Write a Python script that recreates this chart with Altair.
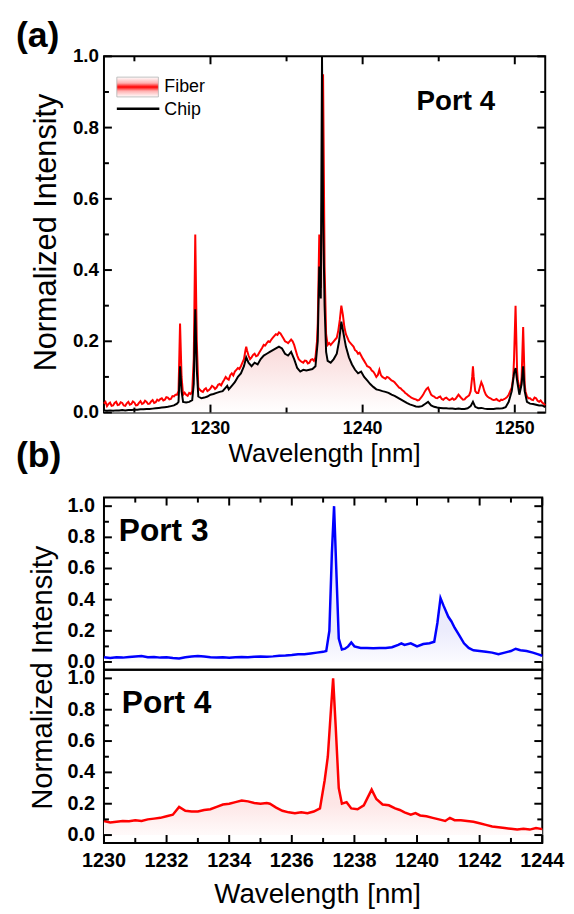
import altair as alt
import pandas as pd

FONT = "Liberation Sans"

# ---------------- (a) Port 4 : fiber (red) ----------------
FIBER_WL = [1223.0, 1223.1, 1223.2, 1223.3, 1223.4, 1223.5, 1223.6, 1223.7, 1223.8, 1223.9,
            1224.0, 1224.1, 1224.2, 1224.3, 1224.4, 1224.5, 1224.6, 1224.7, 1224.8, 1224.9,
            1225.0, 1225.1, 1225.2, 1225.3, 1225.4, 1225.5, 1225.6, 1225.7, 1225.8, 1225.9,
            1226.0, 1226.1, 1226.2, 1226.3, 1226.4, 1226.5, 1226.6, 1226.7, 1226.8, 1226.9,
            1227.0, 1227.1, 1227.2, 1227.3, 1227.4, 1227.5, 1227.6, 1227.7, 1227.8, 1227.9,
            1228.0, 1228.1, 1228.2, 1228.3, 1228.4, 1228.5, 1228.6, 1228.7, 1228.8, 1228.9,
            1229.0, 1229.1, 1229.2, 1229.3, 1229.4, 1229.5, 1229.6, 1229.7, 1229.8, 1229.9,
            1230.0, 1230.1, 1230.2, 1230.3, 1230.4, 1230.5, 1230.6, 1230.7, 1230.8, 1230.9,
            1231.0, 1231.1, 1231.2, 1231.3, 1231.4, 1231.5, 1231.6, 1231.7, 1231.8, 1231.9,
            1232.0, 1232.1, 1232.2, 1232.3, 1232.35, 1232.4, 1232.5, 1232.6, 1232.7, 1232.8, 1232.9,
            1233.0, 1233.1, 1233.2, 1233.3, 1233.4, 1233.5, 1233.6, 1233.7, 1233.8, 1233.9,
            1234.0, 1234.1, 1234.2, 1234.3, 1234.4, 1234.5, 1234.6, 1234.7, 1234.8, 1234.9,
            1235.0, 1235.1, 1235.2, 1235.3, 1235.4, 1235.5, 1235.6, 1235.7, 1235.8, 1235.9,
            1236.0, 1236.1, 1236.2, 1236.3, 1236.4, 1236.5, 1236.6, 1236.7, 1236.8, 1236.9,
            1237.0, 1237.05, 1237.15, 1237.25, 1237.33, 1237.4, 1237.5, 1237.6, 1237.7, 1237.8, 1237.9,
            1238.0, 1238.1, 1238.2, 1238.3, 1238.4, 1238.5, 1238.6, 1238.7, 1238.8, 1238.9,
            1239.0, 1239.1, 1239.2, 1239.3, 1239.4, 1239.5, 1239.6, 1239.7, 1239.8, 1239.9,
            1240.0, 1240.1, 1240.2, 1240.3, 1240.4, 1240.5, 1240.6, 1240.7, 1240.8, 1240.9,
            1241.0, 1241.1, 1241.2, 1241.3, 1241.4, 1241.5, 1241.6, 1241.7, 1241.8, 1241.9,
            1242.0, 1242.1, 1242.2, 1242.3, 1242.4, 1242.5, 1242.6, 1242.7, 1242.8, 1242.9,
            1243.0, 1243.1, 1243.2, 1243.3, 1243.4, 1243.5, 1243.6, 1243.7, 1243.8, 1243.9,
            1244.0, 1244.1, 1244.2, 1244.3, 1244.4, 1244.5, 1244.6, 1244.7, 1244.8, 1244.9,
            1245.0, 1245.1, 1245.2, 1245.3, 1245.4, 1245.5, 1245.6, 1245.7, 1245.8, 1245.9,
            1246.0, 1246.1, 1246.2, 1246.3, 1246.4, 1246.5, 1246.6, 1246.7, 1246.8, 1246.9,
            1247.0, 1247.1, 1247.2, 1247.25, 1247.3, 1247.4, 1247.5, 1247.6, 1247.7, 1247.8, 1247.9,
            1248.0, 1248.1, 1248.2, 1248.3, 1248.4, 1248.5, 1248.6, 1248.7, 1248.8, 1248.9,
            1249.0, 1249.1, 1249.2, 1249.3, 1249.4, 1249.5, 1249.6, 1249.7, 1249.8, 1249.9, 1249.95,
            1250.05, 1250.15, 1250.2, 1250.3, 1250.4, 1250.45, 1250.55, 1250.65, 1250.7, 1250.8, 1250.9,
            1251.0, 1251.1, 1251.2, 1251.3, 1251.4, 1251.5, 1251.6, 1251.7, 1251.8, 1251.9, 1252.0]
FIBER_VAL = [0.025, 0.030, 0.018, 0.024, 0.028, 0.019, 0.020, 0.027, 0.030, 0.021,
             0.022, 0.029, 0.027, 0.020, 0.019, 0.026, 0.030, 0.022, 0.024, 0.031,
             0.028, 0.020, 0.021, 0.027, 0.032, 0.024, 0.026, 0.033, 0.030, 0.024,
             0.025, 0.031, 0.035, 0.027, 0.029, 0.036, 0.033, 0.038, 0.040, 0.034,
             0.036, 0.043, 0.042, 0.037, 0.038, 0.046, 0.045, 0.050, 0.050, 0.060,
             0.250, 0.100, 0.050, 0.056, 0.050, 0.047, 0.055, 0.052, 0.060, 0.150,
             0.500, 0.200, 0.070, 0.064, 0.060, 0.058, 0.065, 0.068, 0.060, 0.063,
             0.068, 0.075, 0.072, 0.066, 0.070, 0.078, 0.080, 0.076, 0.085, 0.092,
             0.100, 0.095, 0.092, 0.105, 0.110, 0.104, 0.115, 0.120, 0.125, 0.122,
             0.130, 0.140, 0.150, 0.175, 0.185, 0.175, 0.160, 0.150, 0.155, 0.162, 0.165,
             0.158, 0.160, 0.168, 0.175, 0.182, 0.190, 0.188, 0.195, 0.200, 0.198,
             0.205, 0.210, 0.215, 0.220, 0.218, 0.225, 0.222, 0.215, 0.208, 0.200,
             0.198, 0.195, 0.200, 0.205, 0.200, 0.190, 0.175, 0.160, 0.150, 0.145,
             0.142, 0.140, 0.146, 0.145, 0.138, 0.140, 0.148, 0.150, 0.145, 0.155,
             0.200, 0.250, 0.500, 0.350, 0.600, 0.950, 0.410, 0.220, 0.190, 0.195, 0.190,
             0.195, 0.200, 0.205, 0.210, 0.230, 0.260, 0.300, 0.275, 0.240, 0.220,
             0.210, 0.200, 0.195, 0.190, 0.185, 0.175, 0.172, 0.165, 0.168, 0.160,
             0.152, 0.145, 0.138, 0.130, 0.128, 0.125, 0.118, 0.115, 0.108, 0.100,
             0.105, 0.120, 0.105, 0.100, 0.097, 0.095, 0.100, 0.098, 0.094, 0.090,
             0.088, 0.085, 0.080, 0.075, 0.070, 0.068, 0.063, 0.060, 0.055, 0.052,
             0.048, 0.045, 0.042, 0.040, 0.038, 0.037, 0.034, 0.035, 0.040, 0.045,
             0.052, 0.060, 0.066, 0.070, 0.060, 0.050, 0.047, 0.045, 0.041, 0.040,
             0.043, 0.045, 0.038, 0.036, 0.040, 0.042, 0.038, 0.035, 0.037, 0.040,
             0.036, 0.038, 0.044, 0.050, 0.045, 0.040, 0.036, 0.037, 0.042, 0.045,
             0.048, 0.060, 0.100, 0.130, 0.100, 0.060, 0.055, 0.055, 0.070, 0.085, 0.075,
             0.060, 0.050, 0.045, 0.042, 0.040, 0.037, 0.035, 0.036, 0.038, 0.034,
             0.032, 0.036, 0.035, 0.038, 0.040, 0.044, 0.050, 0.060, 0.070, 0.100, 0.150,
             0.300, 0.120, 0.090, 0.070, 0.075, 0.100, 0.240, 0.080, 0.060, 0.045, 0.040,
             0.040, 0.036, 0.035, 0.042, 0.040, 0.033, 0.030, 0.034, 0.028, 0.025, 0.020]

# ---------------- (a) Port 4 : chip (black) ----------------
CHIP_WL = [1223.0, 1223.2, 1223.4, 1223.6, 1223.8, 1224.0, 1224.2, 1224.4, 1224.6, 1224.8,
           1225.0, 1225.2, 1225.4, 1225.6, 1225.8, 1226.0, 1226.2, 1226.4, 1226.6, 1226.8,
           1227.0, 1227.2, 1227.4, 1227.6, 1227.8, 1227.9, 1228.0, 1228.1, 1228.2, 1228.4,
           1228.6, 1228.8, 1228.9, 1229.0, 1229.1, 1229.2, 1229.4, 1229.6, 1229.8, 1230.0,
           1230.2, 1230.4, 1230.6, 1230.8, 1231.0, 1231.1, 1231.2, 1231.4, 1231.6, 1231.8,
           1232.0, 1232.2, 1232.35, 1232.5, 1232.7, 1232.9, 1233.1, 1233.3, 1233.5, 1233.7,
           1233.9, 1234.1, 1234.3, 1234.5, 1234.7, 1234.9, 1235.1, 1235.3, 1235.5, 1235.7,
           1235.9, 1236.1, 1236.3, 1236.5, 1236.7, 1236.9, 1237.05, 1237.15, 1237.25, 1237.33,
           1237.4, 1237.5, 1237.6, 1237.7, 1237.9, 1238.1, 1238.3, 1238.45, 1238.6, 1238.75,
           1238.9, 1239.1, 1239.3, 1239.5, 1239.7, 1239.9, 1240.1, 1240.3, 1240.5, 1240.7,
           1240.9, 1241.1, 1241.3, 1241.5, 1241.7, 1241.9, 1242.1, 1242.3, 1242.5, 1242.7,
           1242.9, 1243.1, 1243.3, 1243.5, 1243.7, 1243.9, 1244.1, 1244.3, 1244.5, 1244.7,
           1244.9, 1245.1, 1245.3, 1245.5, 1245.7, 1245.9, 1246.1, 1246.3, 1246.5, 1246.7,
           1246.9, 1247.1, 1247.25, 1247.4, 1247.6, 1247.8, 1248.0, 1248.2, 1248.4, 1248.6,
           1248.8, 1249.0, 1249.2, 1249.4, 1249.6, 1249.8, 1249.95, 1250.05, 1250.15, 1250.3,
           1250.45, 1250.55, 1250.65, 1250.8, 1251.0, 1251.2, 1251.4, 1251.6, 1251.8, 1252.0]
CHIP_VAL = [0.006, 0.005, 0.006, 0.005, 0.006, 0.006, 0.007, 0.006, 0.007, 0.007,
            0.008, 0.008, 0.009, 0.009, 0.010, 0.010, 0.011, 0.012, 0.013, 0.014,
            0.015, 0.016, 0.018, 0.020, 0.025, 0.030, 0.130, 0.060, 0.030, 0.028,
            0.030, 0.035, 0.080, 0.290, 0.120, 0.045, 0.040, 0.042, 0.045, 0.050,
            0.052, 0.055, 0.058, 0.060, 0.070, 0.075, 0.065, 0.075, 0.085, 0.100,
            0.110, 0.130, 0.155, 0.140, 0.130, 0.140, 0.135, 0.150, 0.160, 0.165,
            0.170, 0.175, 0.180, 0.185, 0.180, 0.165, 0.160, 0.170, 0.150, 0.125,
            0.115, 0.120, 0.118, 0.120, 0.122, 0.130, 0.200, 0.410, 0.320, 1.000,
            0.550, 0.300, 0.170, 0.145, 0.140, 0.150, 0.165, 0.200, 0.255, 0.220,
            0.185, 0.155, 0.135, 0.120, 0.110, 0.115, 0.100, 0.090, 0.080, 0.072,
            0.065, 0.063, 0.060, 0.058, 0.055, 0.050, 0.047, 0.042, 0.037, 0.032,
            0.027, 0.023, 0.020, 0.017, 0.016, 0.018, 0.024, 0.030, 0.020, 0.016,
            0.014, 0.013, 0.012, 0.012, 0.011, 0.011, 0.010, 0.011, 0.010, 0.010,
            0.012, 0.018, 0.030, 0.016, 0.012, 0.013, 0.011, 0.010, 0.010, 0.010,
            0.011, 0.011, 0.012, 0.015, 0.030, 0.060, 0.110, 0.125, 0.090, 0.050,
            0.080, 0.130, 0.060, 0.030, 0.025, 0.024, 0.022, 0.020, 0.020, 0.015]

# ---------------- (b) Port 3 / Port 4 ----------------
P3_WL = [1230.0, 1230.2, 1230.4, 1230.6, 1230.8, 1231.0, 1231.2, 1231.4, 1231.6, 1231.8,
         1232.0, 1232.2, 1232.4, 1232.6, 1232.8, 1233.0, 1233.2, 1233.4, 1233.6, 1233.8,
         1234.0, 1234.2, 1234.4, 1234.6, 1234.8, 1235.0, 1235.2, 1235.4, 1235.6, 1235.8,
         1236.0, 1236.2, 1236.4, 1236.6, 1236.8, 1237.0, 1237.1, 1237.2, 1237.28, 1237.35,
         1237.42, 1237.5, 1237.6, 1237.7, 1237.8, 1237.9, 1238.0, 1238.2, 1238.4, 1238.6,
         1238.8, 1239.0, 1239.2, 1239.4, 1239.5, 1239.6, 1239.8, 1240.0, 1240.2, 1240.4,
         1240.55, 1240.65, 1240.75, 1240.85, 1241.0, 1241.1, 1241.2, 1241.35, 1241.5, 1241.65,
         1241.8, 1242.0, 1242.2, 1242.4, 1242.6, 1242.8, 1243.0, 1243.15, 1243.3, 1243.5,
         1243.7, 1243.85, 1244.0]
P3_VAL = [0.030, 0.025, 0.030, 0.028, 0.032, 0.035, 0.038, 0.030, 0.032, 0.028,
          0.030, 0.025, 0.022, 0.030, 0.035, 0.038, 0.035, 0.030, 0.028, 0.030,
          0.027, 0.030, 0.032, 0.030, 0.033, 0.035, 0.033, 0.036, 0.040, 0.042,
          0.045, 0.050, 0.050, 0.055, 0.060, 0.065, 0.070, 0.200, 0.700, 1.000,
          0.600, 0.150, 0.080, 0.085, 0.100, 0.125, 0.100, 0.090, 0.090, 0.088,
          0.090, 0.090, 0.095, 0.110, 0.120, 0.110, 0.120, 0.100, 0.115, 0.120,
          0.130, 0.250, 0.410, 0.360, 0.290, 0.260, 0.220, 0.170, 0.120, 0.090,
          0.075, 0.070, 0.065, 0.060, 0.050, 0.060, 0.070, 0.085, 0.075, 0.070,
          0.060, 0.050, 0.040]
P4_WL = [1230.0, 1230.2, 1230.4, 1230.6, 1230.8, 1231.0, 1231.2, 1231.4, 1231.6, 1231.8,
         1232.0, 1232.2, 1232.4, 1232.6, 1232.8, 1233.0, 1233.2, 1233.4, 1233.6, 1233.8,
         1234.0, 1234.2, 1234.4, 1234.6, 1234.8, 1235.0, 1235.2, 1235.3, 1235.5, 1235.7,
         1235.9, 1236.1, 1236.3, 1236.5, 1236.7, 1236.9, 1237.05, 1237.15, 1237.25, 1237.32,
         1237.4, 1237.5, 1237.6, 1237.75, 1237.9, 1238.1, 1238.3, 1238.45, 1238.55, 1238.7,
         1238.9, 1239.1, 1239.3, 1239.45, 1239.6, 1239.8, 1239.95, 1240.1, 1240.3, 1240.5,
         1240.7, 1240.9, 1241.05, 1241.2, 1241.4, 1241.6, 1241.8, 1242.0, 1242.2, 1242.4,
         1242.6, 1242.8, 1243.0, 1243.2, 1243.4, 1243.6, 1243.8, 1244.0]
P4_VAL = [0.090, 0.080, 0.085, 0.090, 0.088, 0.095, 0.090, 0.100, 0.105, 0.110,
          0.120, 0.130, 0.180, 0.155, 0.150, 0.150, 0.160, 0.165, 0.180, 0.195,
          0.200, 0.210, 0.220, 0.215, 0.205, 0.200, 0.205, 0.200, 0.175, 0.155,
          0.145, 0.140, 0.145, 0.140, 0.150, 0.170, 0.350, 0.500, 0.800, 1.000,
          0.700, 0.300, 0.200, 0.210, 0.170, 0.165, 0.190, 0.250, 0.290, 0.230,
          0.195, 0.190, 0.170, 0.160, 0.145, 0.130, 0.140, 0.125, 0.120, 0.110,
          0.100, 0.090, 0.110, 0.095, 0.095, 0.090, 0.085, 0.075, 0.065, 0.055,
          0.050, 0.045, 0.040, 0.035, 0.040, 0.035, 0.045, 0.038]

TOP_X_MAJOR = [1230, 1240, 1250]
TOP_X_LABELS = ["1230", "1240", "1250"]
TOP_X_MINOR = [1225, 1235, 1245]
Y_MAJOR = [0.0, 0.2, 0.4, 0.6, 0.8, 1.0]
Y_LABELS = ["0.0", "0.2", "0.4", "0.6", "0.8", "1.0"]
Y_MINOR = [0.1, 0.3, 0.5, 0.7, 0.9]
B_X_MAJOR = [1230, 1232, 1234, 1236, 1238, 1240, 1242, 1244]
B_X_LABELS = ["1230", "1232", "1234", "1236", "1238", "1240", "1242", "1244"]
B_X_MINOR = [1231, 1233, 1235, 1237, 1239, 1241, 1243]

W1, H1 = 446, 360
W2, H2A, H2B = 443, 174, 175
MAJ, MIN = 8, 5


def grad(stops):
    return alt.Gradient(gradient="linear", x1=1, x2=1, y1=0, y2=1,
                        stops=[alt.GradientStop(color=c, offset=o) for o, c in stops])


def ticks(xvals, yvals, xs, ys, w, h, top=True, bottom=True):
    layers = []
    for vals, ln in ((xvals[0], MAJ), (xvals[1], MIN)):
        d = pd.DataFrame({"v": vals})
        if top:
            layers.append(alt.Chart(d).mark_rule(color="black", strokeWidth=2).encode(
                x=alt.X("v:Q", scale=xs, axis=None), y=alt.value(0), y2=alt.value(ln)))
        if bottom:
            layers.append(alt.Chart(d).mark_rule(color="black", strokeWidth=2).encode(
                x=alt.X("v:Q", scale=xs, axis=None), y=alt.value(h), y2=alt.value(h - ln)))
    for vals, ln in ((yvals[0], MAJ), (yvals[1], MIN)):
        d = pd.DataFrame({"v": vals})
        layers.append(alt.Chart(d).mark_rule(color="black", strokeWidth=2).encode(
            y=alt.Y("v:Q", scale=ys, axis=None), x=alt.value(0), x2=alt.value(ln)))
        layers.append(alt.Chart(d).mark_rule(color="black", strokeWidth=2).encode(
            y=alt.Y("v:Q", scale=ys, axis=None), x=alt.value(w), x2=alt.value(w - ln)))
    return layers


def xlabels(vals, labels, xs, y, size):
    return alt.Chart(pd.DataFrame({"v": vals, "t": labels})).mark_text(
        font=FONT, fontSize=size, fontWeight="bold", align="center", baseline="middle",
        color="black").encode(x=alt.X("v:Q", scale=xs, axis=None), y=alt.value(y), text="t:N")


def ylabels(vals, labels, ys, x, size):
    return alt.Chart(pd.DataFrame({"v": vals, "t": labels})).mark_text(
        font=FONT, fontSize=size, fontWeight="bold", align="right", baseline="middle",
        color="black").encode(y=alt.Y("v:Q", scale=ys, axis=None), x=alt.value(x), text="t:N")


def text(t, x, y, size, bold=False, angle=0, align="left", baseline="middle", opacity=1):
    kw = dict(text=t, font=FONT, fontSize=size, fontWeight="bold" if bold else "normal",
              align=align, baseline=baseline, color="black", opacity=opacity)
    if angle:
        kw["angle"] = angle
    return alt.Chart(pd.DataFrame({"a": [0]})).mark_text(**kw).encode(
        x=alt.value(x), y=alt.value(y))


# ---- top panel ----
df_fiber = pd.DataFrame({"wl": FIBER_WL, "v": FIBER_VAL})
df_chip = pd.DataFrame({"wl": CHIP_WL, "v": CHIP_VAL})
xs1 = alt.Scale(domain=[1223, 1252], nice=False, zero=False)
ys1 = alt.Scale(domain=[0, 1], nice=False)

top_area = alt.Chart(df_chip).mark_area(
    color=grad([(0, "#f4c2c2"), (0.78, "#f8d2d2"), (1, "#ffffff")])).encode(
    x=alt.X("wl:Q", scale=xs1, axis=None),
    y=alt.Y("v:Q", scale=ys1, axis=None))
top_fiber = alt.Chart(df_fiber).mark_line(color="#ff0000", strokeWidth=2).encode(
    x=alt.X("wl:Q", scale=xs1, axis=None), y=alt.Y("v:Q", scale=ys1, axis=None))
top_chip = alt.Chart(df_chip).mark_line(color="#000000", strokeWidth=2).encode(
    x=alt.X("wl:Q", scale=xs1, axis=None), y=alt.Y("v:Q", scale=ys1, axis=None))

legend_sw = alt.Chart(pd.DataFrame({"a": [0]})).mark_rect(
    fill=grad([(0, "#ffffff"), (0.3, "#ffb0b0"), (0.5, "#ff0000"), (0.7, "#ffb0b0"), (1, "#ffffff")]),
    stroke="#b0b0b0", strokeWidth=0.8).encode(
    x=alt.value(13), x2=alt.value(55), y=alt.value(21), y2=alt.value(41))
legend_ln = alt.Chart(pd.DataFrame({"a": [0]})).mark_rule(color="black", strokeWidth=2.5).encode(
    x=alt.value(13), x2=alt.value(56), y=alt.value(53))

top = alt.layer(
    top_area, top_fiber, top_chip,
    *ticks((TOP_X_MAJOR, TOP_X_MINOR), (Y_MAJOR, Y_MINOR), xs1, ys1, W1, H1),
    xlabels(TOP_X_MAJOR, TOP_X_LABELS, xs1, H1 + 17, 18),
    ylabels(Y_MAJOR, Y_LABELS, ys1, -5, 19),
    legend_sw, legend_ln,
    text("Fiber", 61, 31, 18), text("Chip", 61, 54, 18),
    text("Port 4", 316, 54, 28, bold=True, baseline="alphabetic"),
    text("(a)", -89, -20, 36, bold=True),
    text("(b)", -89, 404, 36, bold=True),
    text("Normalized Intensity", -57, 178, 31, angle=270, align="center"),
    text("Wavelength [nm]", 223, 402, 26, align="center"),
).properties(width=W1, height=H1)

# ---- bottom panels ----
xs2 = alt.Scale(domain=[1230, 1244], nice=False, zero=False)
ys2 = alt.Scale(domain=[-0.05, 1.055], nice=False)
df3 = pd.DataFrame({"wl": P3_WL, "v": P3_VAL})
df4 = pd.DataFrame({"wl": P4_WL, "v": P4_VAL})

b1 = alt.layer(
    alt.Chart(df3).mark_area(color=grad([(0, "#e4e4fb"), (0.8, "#ececfc"), (1, "#fbfbff")])).encode(
        x=alt.X("wl:Q", scale=xs2, axis=None),
        y=alt.Y("v:Q", scale=ys2, axis=None)),
    alt.Chart(df3).mark_line(color="#0000ff", strokeWidth=2.5).encode(
        x=alt.X("wl:Q", scale=xs2, axis=None), y=alt.Y("v:Q", scale=ys2, axis=None)),
    *ticks((B_X_MAJOR, B_X_MINOR), (Y_MAJOR, Y_MINOR), xs2, ys2, W2, H2A, top=True, bottom=False),
    ylabels(Y_MAJOR, Y_LABELS, ys2, -9, 20),
    text("Port 3", 15, 44, 32, bold=True, baseline="alphabetic"),
    text("(b)", -89, 80, 36, bold=True, opacity=0),
).properties(width=W2, height=H2A)

b2 = alt.layer(
    alt.Chart(df4).mark_area(color=grad([(0, "#fbdcdc"), (0.8, "#fde6e6"), (1, "#fffafa")])).encode(
        x=alt.X("wl:Q", scale=xs2, axis=None),
        y=alt.Y("v:Q", scale=ys2, axis=None)),
    alt.Chart(df4).mark_line(color="#ff0000", strokeWidth=2.5).encode(
        x=alt.X("wl:Q", scale=xs2, axis=None), y=alt.Y("v:Q", scale=ys2, axis=None)),
    *ticks((B_X_MAJOR, B_X_MINOR), (Y_MAJOR, Y_MINOR), xs2, ys2, W2, H2B, top=False, bottom=True),
    xlabels(B_X_MAJOR, B_X_LABELS, xs2, H2B + 18, 20),
    ylabels(Y_MAJOR, Y_LABELS, ys2, -9, 20),
    text("Port 4", 18, 44, 32, bold=True, baseline="alphabetic"),
    text("Normalized Intensity", -62, 8, 29.5, angle=270, align="center"),
    text("Wavelength [nm]", 216, H2B + 53, 28, align="center"),
).properties(width=W2, height=H2B)

bottom = alt.vconcat(b1, b2, spacing=0, bounds="flush")

chart = alt.vconcat(top, bottom, spacing=20).properties(
    padding={"left": 7, "top": 5, "right": 0, "bottom": 0}
).configure_view(stroke="black", strokeWidth=2)

chart.save("out.html", embed_options={"renderer": "svg", "actions": False})
